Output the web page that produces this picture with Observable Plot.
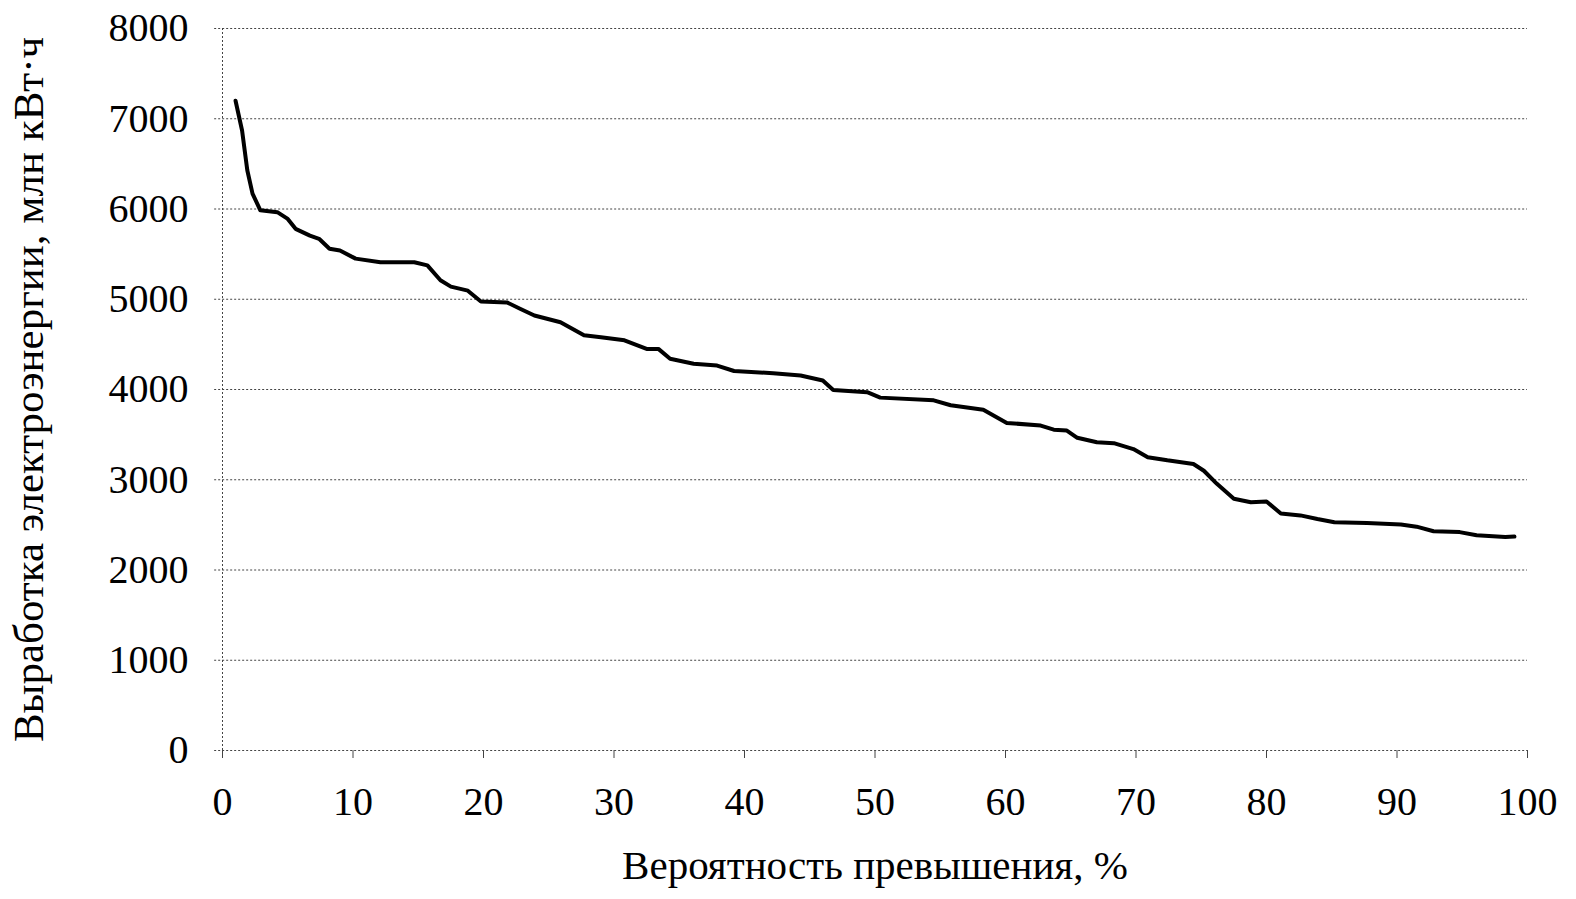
<!DOCTYPE html>
<html>
<head>
<meta charset="utf-8">
<script src="https://cdn.jsdelivr.net/npm/d3@7"></script>
<script src="https://cdn.jsdelivr.net/npm/@observablehq/plot@0.6"></script>
<style>
  html, body { margin: 0; padding: 0; background: #fff; }
</style>
</head>
<body>
<div id="chart"></div>
<script>
// Exceedance probability, %
const prob = [1, 1.5, 1.9, 2.3, 2.9, 4.2, 5.0, 5.6, 6.7, 7.4, 8.2, 9.0, 10.2, 12.1, 14.7, 15.7, 16.7, 17.5, 18.8, 19.8,
  21.8, 22.8, 23.9, 25.9, 27.7, 29.0, 30.8, 32.5, 33.4, 34.3, 36.1, 37.9, 39.2, 42.2, 44.3, 46.0, 46.8, 49.4,
  50.4, 54.5, 55.8, 58.3, 60.1, 62.7, 63.7, 64.7, 65.5, 67.0, 68.3, 69.8, 70.9, 72.4, 74.4, 75.2, 76.2, 77.5,
  78.8, 80.0, 81.1, 82.6, 83.9, 85.2, 87.7, 90.3, 91.5, 92.8, 94.8, 96.1, 98.3, 99.0];
// Electricity generation, mln kWh
const energy = [7200, 6870, 6430, 6170, 5985, 5965, 5890, 5780, 5705, 5670, 5560, 5540, 5450, 5410, 5410, 5375, 5210, 5140, 5095, 4975,
  4965, 4895, 4820, 4745, 4600, 4580, 4545, 4450, 4450, 4340, 4285, 4265, 4205, 4180, 4155, 4100, 3995, 3970,
  3910, 3880, 3825, 3775, 3630, 3600, 3555, 3545, 3465, 3415, 3405, 3340, 3250, 3215, 3175, 3100, 2955, 2790,
  2750, 2760, 2625, 2605, 2565, 2530, 2520, 2505, 2480, 2430, 2420, 2385, 2365, 2370];
const xTicks = [0, 10, 20, 30, 40, 50, 60, 70, 80, 90, 100];
const yTicks = [0, 1000, 2000, 3000, 4000, 5000, 6000, 7000, 8000];
const xLabel = "Вероятность превышения, %";
const yLabel = "Выработка электроэнергии, млн кВт·ч";

const data = prob.map((p, i) => ({p, e: energy[i]}));

const chart = Plot.plot({
  width: 1576,
  height: 899,
  marginLeft: 222,
  marginRight: 49,
  marginTop: 28,
  marginBottom: 149,
  style: {fontFamily: "'Liberation Serif', 'DejaVu Serif', serif", fontSize: "40px", color: "#000", background: "#fff"},
  x: {domain: [0, 100], ticks: xTicks},
  y: {domain: [0, 8000], ticks: yTicks},
  marks: [
    Plot.ruleY(yTicks, {x1: -0.6, x2: 100, stroke: "#444", strokeWidth: 1, strokeDasharray: "2,2"}),
    Plot.ruleX([0], {y1: 0, y2: 8000, stroke: "#444", strokeWidth: 1, strokeDasharray: "2,2"}),
    Plot.axisX({ticks: xTicks, tickFormat: "d", tickSize: 8, tickPadding: 28, stroke: "#444", fontSize: 40, label: null}),
    Plot.axisX({ticks: [], label: xLabel, labelAnchor: "center", labelArrow: "none", labelOffset: 128, fontSize: 41}),
    Plot.axisY({ticks: yTicks, tickFormat: "d", tickSize: 0, tickPadding: 34, fontSize: 40, label: null}),
    Plot.axisY({ticks: [], label: yLabel, labelAnchor: "center", labelArrow: "none", labelOffset: 210, fontSize: 43}),
    Plot.line(data, {x: "p", y: "e", stroke: "#000", strokeWidth: 4, strokeLinejoin: "round"})
  ]
});
document.getElementById("chart").appendChild(chart);
</script>
</body>
</html>
